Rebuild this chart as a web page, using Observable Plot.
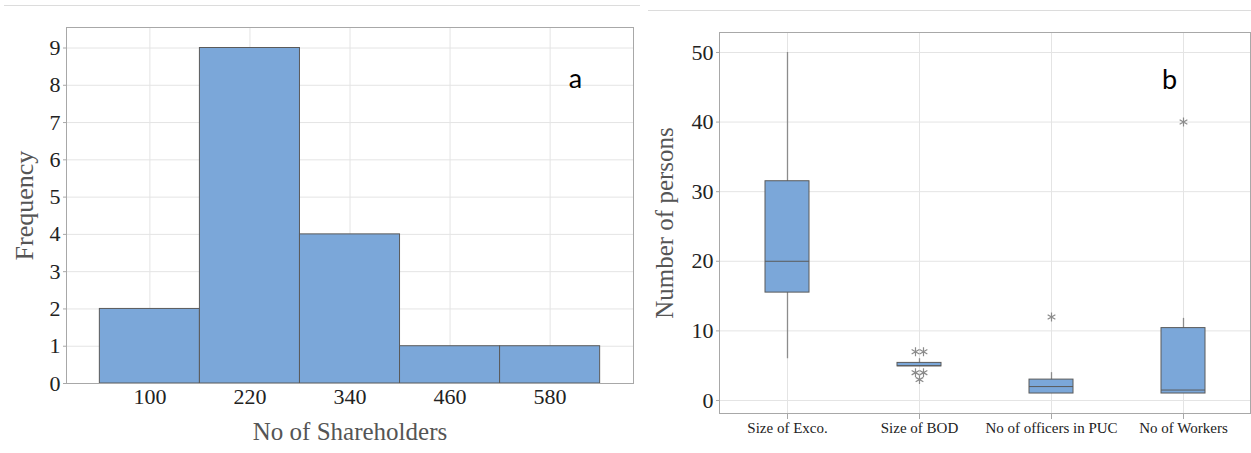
<!DOCTYPE html>
<html><head><meta charset="utf-8">
<script src="https://cdn.jsdelivr.net/npm/d3@7"></script>
<script src="https://cdn.jsdelivr.net/npm/@observablehq/plot@0.6"></script>
<style>
body{margin:0;background:#fff;}
#wrap{position:relative;width:1251px;height:453px;display:flex;overflow:hidden;}
.sep{position:absolute;height:1px;background:#dcdcdc;}
#wrap svg{display:block;}
</style></head><body>
<div id="wrap">
  <div class="sep" style="left:4px;top:5px;width:636px"></div>
  <div class="sep" style="left:648px;top:10px;width:603px"></div>
  <div id="a"></div><div id="b"></div>
</div>
<script>
// ---- Panel a data (histogram) ----
const binStart = [40, 160, 280, 400, 520];
const binEnd = [160, 280, 400, 520, 640];
const frequency = [2, 9, 4, 1, 1];
const shareTicks = [100, 220, 340, 460, 580];
const freqTicks = [0, 1, 2, 3, 4, 5, 6, 7, 8, 9];

// ---- Panel b data (box plots) ----
const categories = ["Size of Exco.", "Size of BOD", "No of officers in PUC", "No of Workers"];
const whiskerLow = [6, 5, 1, 1];
const q1 = [15.5, 4.9, 1, 1];
const median = [20, 5, 2, 1.5];
const q3 = [31.5, 5.4, 3, 10.4];
const whiskerHigh = [50, 6, 4, 11.8];
const outlierGroup = ["Size of BOD", "Size of BOD", "Size of BOD", "Size of BOD", "Size of BOD", "No of officers in PUC", "No of Workers"];
const outlierValue = [7, 7, 4, 4, 3, 12, 40];
const personTicks = [0, 10, 20, 30, 40, 50];

const serif = "'Liberation Serif','Times New Roman',serif";
const sans = "Lato,'Open Sans',sans-serif";
const fillBlue = "#7ba7d9";
const edge = "#5a5a5a";
const gridCol = "#e4e4e4";
const titleCol = "#555";

const bins = frequency.map((f, i) => ({x1: binStart[i], x2: binEnd[i], f}));

const plotA = Plot.plot({
  width: 640, height: 453,
  marginLeft: 66, marginRight: 7, marginTop: 27, marginBottom: 70,
  style: {fontFamily: serif, background: "transparent", color: "#222"},
  x: {domain: [0, 680]},
  y: {domain: [0, 9.55]},
  marks: [
    Plot.gridX(shareTicks, {stroke: gridCol, strokeOpacity: 1}),
    Plot.gridY(freqTicks, {stroke: gridCol, strokeOpacity: 1}),
    Plot.rectY(bins, {x1: "x1", x2: "x2", y: "f", fill: fillBlue, stroke: edge, strokeWidth: 1}),
    Plot.frame({stroke: "#a8a8a8"}),
    Plot.axisX(shareTicks, {tickSize: 0, tickPadding: 5, fontSize: 22, label: null}),
    Plot.axisY(freqTicks, {tickSize: 3, tickPadding: 3, fontSize: 22, label: null, stroke: "#a8a8a8"}),
    Plot.text(["Frequency"], {frameAnchor: "left", dx: -42, rotate: -90, fontSize: 26, fill: titleCol, textAnchor: "middle", lineAnchor: "middle"}),
    Plot.text(["No of Shareholders"], {frameAnchor: "bottom", dy: 48, fontSize: 25, fill: titleCol, textAnchor: "middle", lineAnchor: "middle"}),
    Plot.text(["a"], {frameAnchor: "top-right", dx: -58, dy: 52, fontSize: 27, fontFamily: sans, fill: "#000", textAnchor: "middle", lineAnchor: "middle"})
  ]
});
document.getElementById("a").append(plotA);

const boxes = categories.map((c, i) => ({cat: c, lo: whiskerLow[i], q1: q1[i], med: median[i], q3: q3[i], hi: whiskerHigh[i]}));
// side-by-side offsets for tied outliers
const outliers = outlierGroup.map((c, i) => ({cat: c, value: outlierValue[i]}));
const tieGroups = d3.group(outliers, d => d.cat + "|" + d.value);
for (const g of tieGroups.values()) g.forEach((d, j) => d.slot = j - (g.length - 1) / 2);
const slots = Array.from(new Set(outliers.map(d => d.slot)));

const plotB = Plot.plot({
  width: 611, height: 453,
  marginLeft: 79, marginRight: 1, marginTop: 32, marginBottom: 40,
  style: {fontFamily: serif, background: "transparent", color: "#222"},
  x: {type: "band", domain: categories, paddingInner: 0.67, paddingOuter: 0.335},
  y: {domain: [-1.87, 52.87]},
  marks: [
    Plot.gridX({stroke: gridCol, strokeOpacity: 1}),
    Plot.gridY(personTicks, {stroke: gridCol, strokeOpacity: 1}),
    Plot.ruleX(boxes, {x: "cat", y1: "lo", y2: "hi", stroke: "#8c8c8c", strokeWidth: 1.3}),
    Plot.barY(boxes, {x: "cat", y1: "q1", y2: "q3", fill: fillBlue, stroke: edge, strokeWidth: 1}),
    Plot.tickY(boxes, {x: "cat", y: "med", stroke: edge, strokeWidth: 1}),
    ...slots.map(s => Plot.dot(outliers.filter(d => d.slot === s), {x: "cat", y: "value", symbol: "asterisk", r: 4.2, stroke: "#8a8a8a", strokeWidth: 1.2, dx: s * 8})),
    Plot.frame({stroke: "#a8a8a8"}),
    Plot.axisX({tickSize: 6, tickPadding: 3, fontSize: 15, label: null, stroke: "#a8a8a8"}),
    Plot.axisY(personTicks, {tickSize: 3, tickPadding: 3, fontSize: 22, label: null, stroke: "#a8a8a8"}),
    Plot.text(["Number of persons"], {frameAnchor: "left", dx: -55, rotate: -90, fontSize: 25, fill: titleCol, textAnchor: "middle", lineAnchor: "middle"}),
    Plot.text(["b"], {frameAnchor: "top-right", dx: -81, dy: 48, fontSize: 27, fontFamily: sans, fill: "#000", textAnchor: "middle", lineAnchor: "middle"})
  ]
});
document.getElementById("b").append(plotB);
</script>
</body></html>
